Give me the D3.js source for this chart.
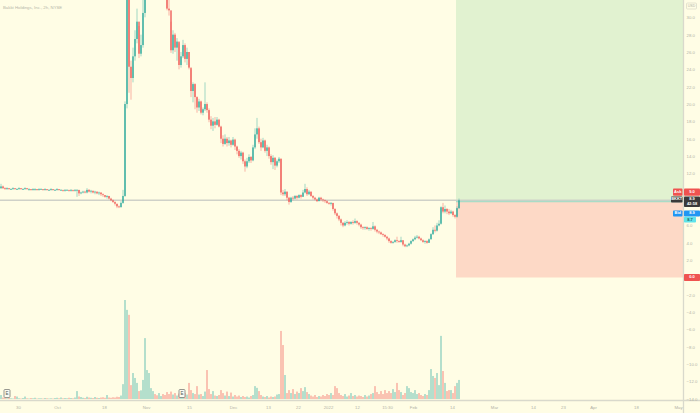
<!DOCTYPE html>
<html>
<head>
<meta charset="utf-8">
<script src="https://cdn.jsdelivr.net/npm/d3@7"></script>
<style>
  html, body { margin: 0; padding: 0; background: #fffde5; }
  svg { display: block; }
  text { font-family: "Liberation Sans", Arial, sans-serif; }
</style>
</head>
<body>
<div id="chart"></div>
<script>
// BKKT 2h bars (open = previous close)
var firstOpen = 10.3;
var closes = [
  10.5, 10.3, 10.2, 10.3, 10.2, 10.2, 10.3, 10.2, 10.2, 10.3,
  10.2, 10.2, 10.3, 10.2, 10.2, 10.1, 10.2, 10.2, 10.1, 10.2,
  10.2, 10.1, 10.2, 10.1, 10.1, 10.2, 10.1, 10.1, 10.2, 10.1,
  10.1, 10.0, 10.1, 10.1, 10.0, 10.1, 10.0, 10.1, 10.1, 9.7,
  9.8, 9.9, 9.8, 10.1, 9.9, 10.0, 9.8, 9.9, 9.7, 9.8,
  9.6, 9.5, 9.3, 9.4, 9.1, 8.9, 8.7, 8.5, 8.2, 8.1,
  8.6, 9.4, 20.0, 34.0, 24.3, 23.0, 25.5, 27.5, 29.5, 25.8,
  26.8, 30.5, 36.0, 38.0, 42.0, 45.0, 48.0, 44.0, 41.0, 43.0,
  46.0, 40.0, 37.0, 31.0, 30.8, 26.2, 28.0, 26.5, 27.2, 24.5,
  25.5, 26.8, 25.2, 26.0, 24.2, 21.5, 22.3, 20.8, 19.6, 20.3,
  19.0, 19.4, 20.0, 19.3, 18.2, 17.5, 18.0, 17.6, 18.2, 17.4,
  16.0, 15.4, 16.0, 15.5, 15.8, 15.3, 15.9, 15.1, 14.6, 14.0,
  14.4, 13.4, 12.8, 13.4, 13.9, 13.5, 15.0, 16.5, 17.2, 15.6,
  15.0, 15.8, 14.6, 15.0, 14.0, 13.3, 13.8, 12.9, 13.4, 13.7,
  9.8, 9.6, 9.9, 9.2, 8.7, 9.2, 9.1, 9.4, 9.2, 9.5,
  9.3, 9.8, 10.2, 9.6, 9.9, 9.4, 9.2, 9.0, 8.8, 9.2,
  9.0, 8.9, 8.8, 8.6, 8.5, 8.6, 7.9, 7.4, 7.1, 6.7,
  6.3, 6.0, 6.3, 6.4, 6.2, 6.4, 6.3, 6.5, 6.3, 6.1,
  5.8, 5.7, 5.8, 5.6, 5.7, 5.6, 5.9, 5.5, 5.3, 5.2,
  5.0, 4.9, 4.7, 4.5, 4.2, 4.0, 4.1, 4.3, 4.2, 4.1,
  4.3, 3.8, 3.6, 3.7, 3.9, 4.2, 4.4, 4.6, 4.7, 4.5,
  4.3, 4.1, 4.2, 4.0, 4.4, 5.0, 5.5, 5.4, 6.0, 6.2,
  8.1, 7.6, 7.9, 7.6, 7.4, 7.6, 7.2, 7.0, 8.0, 8.9
];
var highs = [
  10.8, 10.6, 10.4, 10.4, 10.3, 10.3, 10.4, 10.3, 10.3, 10.4,
  10.3, 10.3, 10.4, 10.3, 10.3, 10.2, 10.3, 10.3, 10.2, 10.3,
  10.3, 10.2, 10.3, 10.2, 10.2, 10.3, 10.2, 10.2, 10.3, 10.2,
  10.2, 10.1, 10.2, 10.2, 10.1, 10.2, 10.1, 10.2, 10.2, 10.1,
  9.9, 10.0, 10.0, 10.3, 10.2, 10.1, 10.0, 10.0, 9.9, 9.9,
  9.8, 9.7, 9.5, 9.5, 9.4, 9.2, 9.0, 8.8, 8.5, 8.3,
  8.8, 10.1, 20.3, 40.0, 36.0, 25.0, 26.5, 28.5, 31.0, 29.0,
  28.0, 33.0, 40.0, 41.0, 44.0, 48.0, 50.0, 48.0, 44.0, 45.0,
  48.0, 46.0, 41.0, 38.0, 33.0, 29.5, 28.5, 28.2, 27.6, 27.0,
  26.0, 27.4, 27.0, 26.5, 26.0, 24.0, 22.5, 22.4, 20.9, 20.6,
  20.4, 19.6, 22.5, 20.2, 19.5, 18.6, 18.4, 18.5, 18.5, 18.3,
  17.5, 16.4, 16.5, 16.2, 16.2, 15.9, 16.2, 16.0, 15.2, 14.8,
  14.6, 14.5, 13.6, 13.8, 14.2, 14.0, 15.3, 17.2, 18.4, 17.4,
  16.0, 16.1, 15.9, 15.3, 15.1, 14.2, 14.1, 13.9, 13.6, 13.9,
  13.7, 10.1, 10.2, 9.9, 9.3, 9.3, 9.4, 9.5, 9.5, 9.6,
  9.6, 10.1, 10.8, 10.4, 10.1, 9.9, 9.5, 9.3, 9.1, 9.3,
  9.3, 9.1, 9.0, 8.9, 8.7, 8.7, 8.6, 8.0, 7.5, 7.2,
  6.8, 6.4, 6.5, 6.6, 6.5, 6.5, 6.6, 6.8, 6.6, 6.4,
  6.2, 5.9, 5.9, 5.9, 5.8, 5.8, 6.4, 6.0, 5.6, 5.4,
  5.3, 5.1, 5.0, 4.8, 4.6, 4.3, 4.2, 4.4, 4.7, 4.3,
  4.7, 4.3, 3.9, 3.8, 4.0, 4.3, 4.5, 4.8, 4.9, 4.8,
  4.6, 4.4, 4.3, 4.3, 4.5, 5.1, 5.8, 6.0, 6.3, 6.6,
  8.2, 8.6, 8.3, 8.0, 7.9, 7.8, 7.7, 7.3, 8.2, 9.1
];
var lows = [
  10.2, 10.2, 10.1, 10.1, 10.1, 10.1, 10.1, 10.1, 10.1, 10.1,
  10.1, 10.1, 10.1, 10.1, 10.0, 10.0, 10.0, 10.0, 10.0, 10.0,
  10.1, 10.0, 10.0, 10.0, 10.0, 10.0, 10.0, 10.0, 10.0, 10.0,
  10.0, 9.9, 9.9, 10.0, 9.9, 9.9, 9.9, 9.9, 9.3, 9.4,
  9.6, 9.7, 9.7, 9.7, 9.8, 9.7, 9.7, 9.6, 9.6, 9.5,
  9.4, 9.3, 9.2, 9.1, 9.0, 8.8, 8.6, 8.3, 8.0, 8.0,
  8.1, 8.5, 9.3, 19.5, 21.3, 20.5, 22.5, 25.0, 27.0, 25.3,
  25.5, 26.5, 30.0, 35.0, 38.0, 42.0, 44.0, 42.0, 39.0, 40.0,
  42.0, 38.0, 35.0, 30.8, 30.2, 25.9, 25.8, 26.0, 25.0, 24.0,
  24.2, 25.3, 24.8, 24.5, 24.0, 20.8, 20.2, 19.4, 19.0, 19.2,
  18.8, 18.7, 19.2, 19.0, 17.9, 17.1, 16.9, 17.2, 17.5, 17.3,
  15.5, 15.1, 15.3, 15.1, 15.2, 15.0, 15.2, 14.7, 14.2, 13.8,
  13.6, 13.1, 12.2, 12.6, 13.2, 13.2, 13.4, 14.8, 16.0, 15.4,
  14.6, 14.9, 14.4, 14.0, 13.7, 13.0, 12.5, 12.4, 12.7, 13.2,
  9.5, 9.4, 9.4, 8.9, 8.4, 8.6, 8.9, 9.0, 9.0, 9.1,
  9.1, 9.3, 9.7, 9.4, 9.5, 9.3, 9.0, 8.9, 8.7, 8.8,
  8.8, 8.7, 8.6, 8.5, 8.4, 8.3, 7.7, 7.2, 6.8, 6.5,
  6.0, 5.8, 5.9, 6.1, 6.0, 6.1, 6.1, 6.2, 6.1, 5.9,
  5.6, 5.5, 5.5, 5.5, 5.4, 5.4, 5.5, 5.3, 5.1, 5.0,
  4.9, 4.7, 4.6, 4.3, 4.0, 3.9, 3.9, 4.0, 4.0, 4.0,
  4.0, 3.6, 3.5, 3.5, 3.6, 3.8, 4.1, 4.3, 4.5, 4.4,
  4.2, 4.0, 3.9, 3.9, 4.0, 4.4, 4.9, 5.2, 5.3, 5.9,
  6.1, 7.4, 7.4, 7.3, 7.2, 7.3, 7.0, 6.8, 6.9, 7.9
];
// volume, millions of shares
var volumes = [
  1.6, 0.6, 0.4, 0.3, 0.5, 0.3, 0.2, 1.2, 1.0, 0.3,
  0.2, 0.4, 1.0, 0.3, 0.2, 0.4, 0.3, 0.5, 0.2, 0.3,
  0.3, 0.2, 0.4, 0.3, 0.2, 0.3, 0.2, 0.4, 0.5, 0.3,
  0.6, 0.3, 0.4, 0.3, 0.5, 0.4, 0.3, 0.6, 3.2, 1.0,
  0.8, 0.5, 0.4, 0.9, 0.6, 0.5, 0.4, 0.8, 0.5, 0.4,
  0.6, 0.7, 0.5, 1.6, 0.6, 0.5, 0.7, 0.6, 0.9, 0.8,
  1.4, 6.0, 40.0, 36.0, 34.0, 5.6, 10.5, 8.5, 6.5, 3.2,
  3.5, 7.7, 24.6, 11.7, 10.5, 4.4, 3.2, 2.0, 1.5, 2.4,
  1.2, 2.0, 1.6, 2.8, 2.0, 3.0, 1.8, 2.4, 1.4, 2.2,
  1.6, 1.4, 2.4, 1.8, 6.5, 3.6, 2.4, 2.0, 5.2, 1.8,
  2.0, 1.2, 3.0, 11.7, 4.0, 2.0, 3.2, 1.4, 1.2, 1.6,
  3.6, 2.4, 1.4, 3.0, 1.2, 2.6, 1.0, 1.6, 1.0, 1.4,
  0.8, 1.2, 0.8, 1.0, 0.6, 1.2, 1.6, 5.2, 4.5, 3.2,
  1.6, 1.0, 0.8, 1.2, 0.6, 1.0, 0.8, 1.0, 1.8, 2.0,
  27.5, 21.8, 9.7, 2.4, 3.6, 2.4, 4.0, 2.0, 3.0, 2.4,
  4.4, 3.2, 4.8, 2.8, 2.0, 1.4, 1.0, 1.6, 0.8, 1.2,
  1.0, 1.6, 1.2, 2.0, 1.6, 2.4, 1.6, 5.2, 4.4, 2.4,
  1.6, 1.2, 2.0, 1.0, 1.4, 2.4, 1.2, 1.6, 1.0, 1.4,
  1.2, 0.8, 1.6, 1.0, 1.4, 2.0, 2.4, 5.2, 2.8, 2.0,
  3.2, 2.0, 3.6, 2.4, 3.2, 2.4, 4.0, 2.8, 6.5, 3.6,
  2.8, 1.6, 2.4, 5.2, 4.4, 2.8, 2.4, 3.6, 2.0, 2.4,
  1.6, 1.2, 2.0, 1.6, 3.6, 12.1, 9.3, 8.5, 10.5, 5.6,
  25.5, 11.3, 6.5, 3.2, 3.6, 3.6, 2.4, 5.2, 6.5, 7.7
];

var timeLabels = ['30', 'Oct', '18', 'Nov', '15', 'Dec', '13', '22', '2022', '12',
  '15:30', 'Feb', '14', 'Mar', '14', '23', 'Apr', '18', 'May'];
var timeIndex = [8.5, 28, 51.5, 72.5, 94, 116, 133.5, 148.5, 163.5, 178,
  193, 206, 225.5, 246.5, 266, 281, 296, 317.5, 338.5];
var priceTicks = [30, 28, 26, 24, 22, 20, 18, 16, 14, 12, 6, 4, 2,
  -2, -4, -6, -8, -10, -12, -14];
var earningsIndex = [3, 90.5];

// long position tool
var posStart = 227.5, entryPrice = 8.75, targetPrice = 40, stopPrice = 0;
var lastPrice = 8.9;

(function() {
  'use strict';
  var W = 700, H = 413, plotR = 683, axisY = 400;
  var up = '#26a69a', down = '#ef5350';

  var data = closes.map(function(c, i) {
    return {i: i, o: i === 0 ? firstOpen : closes[i - 1], h: highs[i], l: lows[i], c: c, v: volumes[i]};
  });

  var x = d3.scaleLinear().domain([0, 341]).range([1, plotR]);
  var y = d3.scaleLinear().domain([0, 30]).range([277.5, 17.3]);
  var yVol = d3.scaleLinear().domain([0, 40]).range([399, 300]);

  var svg = d3.select('#chart').append('svg')
    .attr('width', W).attr('height', H);

  svg.append('rect').attr('width', W).attr('height', H).attr('fill', '#fffde5');

  var plot = svg.append('g');
  plot.append('clipPath').attr('id', 'clip')
    .append('rect').attr('width', plotR).attr('height', axisY);
  var inner = plot.append('g').attr('clip-path', 'url(#clip)');

  // position zones
  inner.append('rect')
    .attr('x', x(posStart)).attr('width', plotR - x(posStart))
    .attr('y', y(targetPrice)).attr('height', y(entryPrice) - y(targetPrice))
    .attr('fill', '#e1f2d0');
  inner.append('rect')
    .attr('x', x(posStart)).attr('width', plotR - x(posStart))
    .attr('y', y(entryPrice)).attr('height', y(stopPrice) - y(entryPrice))
    .attr('fill', '#fdd9c6');

  // volume
  inner.selectAll('rect.vol')
    .data(data)
    .enter().append('rect')
    .attr('class', 'vol')
    .attr('x', function(d) {return x(d.i) - 0.9;})
    .attr('width', 1.8)
    .attr('y', function(d) {return yVol(d.v);})
    .attr('height', function(d) {return yVol(0) - yVol(d.v);})
    .attr('fill', function(d) {return d.c >= d.o ? up : down;})
    .attr('fill-opacity', 0.38);

  // last price line + entry line
  inner.append('line')
    .attr('x1', 0).attr('x2', plotR)
    .attr('y1', y(lastPrice)).attr('y2', y(lastPrice))
    .attr('stroke', '#cfd1c8').attr('stroke-width', 1.5);
  inner.append('line')
    .attr('x1', x(posStart)).attr('x2', plotR)
    .attr('y1', y(entryPrice)).attr('y2', y(entryPrice))
    .attr('stroke', '#a9dcc6').attr('stroke-width', 1.5);

  // candles
  var candle = inner.selectAll('g.candle')
    .data(data)
    .enter().append('g')
    .attr('class', 'candle');

  candle.append('line')
    .attr('x1', function(d) {return x(d.i);})
    .attr('x2', function(d) {return x(d.i);})
    .attr('y1', function(d) {return y(d.h);})
    .attr('y2', function(d) {return y(d.l);})
    .attr('stroke', function(d) {return d.c >= d.o ? up : down;})
    .attr('stroke-opacity', 0.55)
    .attr('stroke-width', 0.8);

  candle.append('rect')
    .attr('x', function(d) {return x(d.i) - 0.65;})
    .attr('width', 1.3)
    .attr('y', function(d) {return y(Math.max(d.o, d.c));})
    .attr('height', function(d) {return Math.max(0.8, Math.abs(y(d.o) - y(d.c)));})
    .attr('fill', function(d) {return d.c >= d.o ? up : down;});

  // frame lines
  svg.append('line')
    .attr('x1', plotR + 0.5).attr('x2', plotR + 0.5)
    .attr('y1', 0).attr('y2', H)
    .attr('stroke', '#d9d9cc').attr('stroke-width', 1.3);
  svg.append('line')
    .attr('x1', 0).attr('x2', W)
    .attr('y1', axisY + 0.5).attr('y2', axisY + 0.5)
    .attr('stroke', '#d9d9cc').attr('stroke-width', 1.3);

  // price axis
  var yAxis = svg.append('g')
    .attr('transform', 'translate(' + plotR + ',0)')
    .call(d3.axisRight(y).tickValues(priceTicks).tickSize(0).tickPadding(3.5)
      .tickFormat(d3.format('.1f')));
  yAxis.select('.domain').remove();
  yAxis.selectAll('text')
    .attr('fill', '#b3b3a6')
    .style('font-size', '4.3px')
    .text(function(d) {return d3.format('.1f')(d).replace('-', '\u2212');});

  // time axis
  var xAxis = svg.append('g')
    .attr('transform', 'translate(0,' + axisY + ')')
    .call(d3.axisBottom(x).tickValues(timeIndex).tickSize(0).tickPadding(5.5)
      .tickFormat(function(d, i) {return timeLabels[i];}));
  xAxis.select('.domain').remove();
  xAxis.selectAll('text')
    .attr('fill', '#b3b3a6')
    .style('font-size', '4.3px');

  // title
  svg.append('text')
    .attr('x', 3).attr('y', 9)
    .attr('fill', '#b6b6a8')
    .style('font-size', '4.3px')
    .text('Bakkt Holdings, Inc., 2h, NYSE');

  // currency badge
  svg.append('rect')
    .attr('x', 686.5).attr('y', 3).attr('width', 10).attr('height', 6).attr('rx', 1)
    .attr('fill', 'none').attr('stroke', '#c8c8bb').attr('stroke-width', 0.5);
  svg.append('text')
    .attr('x', 691.5).attr('y', 7.4).attr('text-anchor', 'middle')
    .attr('fill', '#b3b3a6').style('font-size', '3.6px').text('USD');

  // earnings markers
  earningsIndex.forEach(function(ei) {
    var cx = x(ei);
    svg.append('rect')
      .attr('x', cx - 3).attr('y', 389.5).attr('width', 6).attr('height', 8).attr('rx', 1)
      .attr('fill', '#fbfbf2').attr('stroke', '#7d7d78').attr('stroke-width', 0.8);
    svg.append('text')
      .attr('x', cx).attr('y', 395.2).attr('text-anchor', 'middle')
      .attr('fill', '#55554f').style('font-size', '4.5px').text('E');
  });

  // right-side price tags
  function tag(x0, y0, w, h, fill, lines, color) {
    svg.append('rect')
      .attr('x', x0).attr('y', y0).attr('width', w).attr('height', h).attr('rx', 0.8)
      .attr('fill', fill);
    lines.forEach(function(t, k) {
      svg.append('text')
        .attr('x', x0 + w / 2).attr('y', y0 + 3.9 + k * 5)
        .attr('text-anchor', 'middle')
        .attr('fill', color).style('font-size', '4px').style('font-weight', 'bold')
        .text(t);
    });
  }
  tag(673, 188.6, 9.5, 7.2, '#ef5350', ['Ask'], '#fff');
  tag(684, 188.6, 16, 7.2, '#ef5350', ['9.0'], '#fff');
  tag(671, 196.5, 11.5, 6, '#3a3a3a', ['BKKT'], '#fff');
  tag(684, 196.5, 16, 10.5, '#3a3a3a', ['8.9', '42:58'], '#fff');
  tag(673, 210.5, 9.5, 6, '#2196f3', ['Bid'], '#fff');
  tag(684, 210.5, 16, 6, '#2196f3', ['8.9'], '#fff');
  tag(684, 216.8, 12, 5.8, '#5ee3ea', ['8.7'], '#1f5f66');
  tag(684, 274, 16, 7, '#ef5350', [d3.format('.1f')(stopPrice)], '#fff');
})();
</script>
</body>
</html>
